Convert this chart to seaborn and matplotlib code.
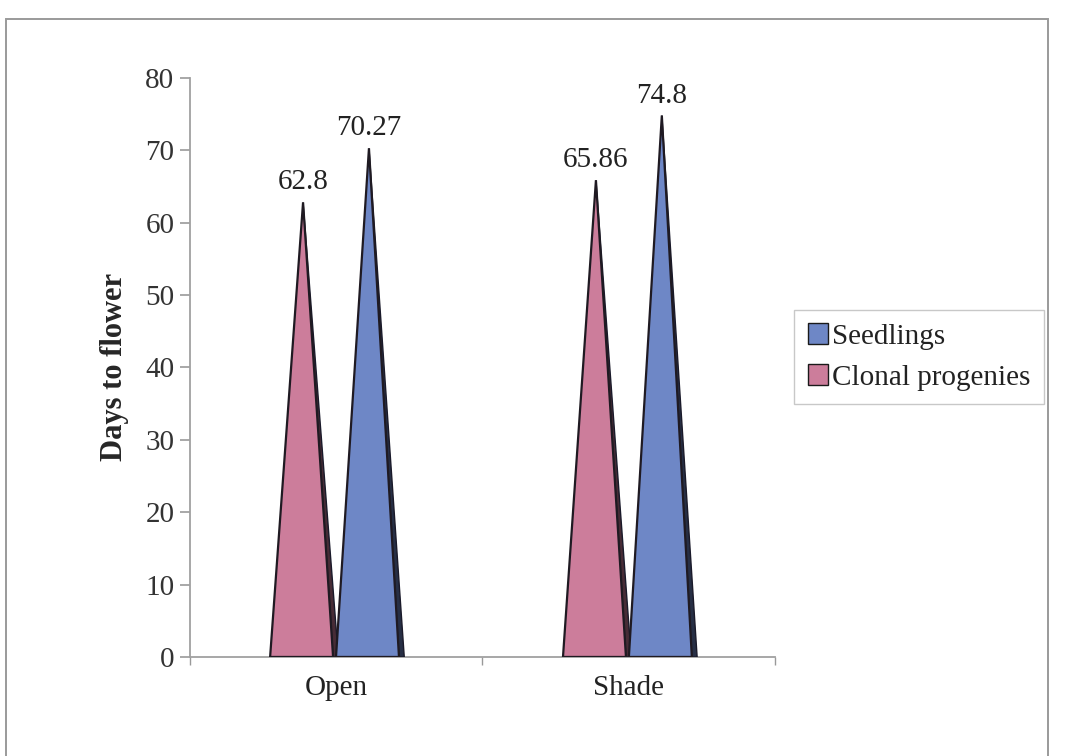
import matplotlib
matplotlib.use("Agg")
import matplotlib.pyplot as plt
from matplotlib.patches import Polygon, Patch, Rectangle
from matplotlib.colors import to_rgb
import pandas as pd
import seaborn as sns

# Data
conditions = ["Open", "Shade"]
groups = ["Clonal progenies", "Seedlings"]
clonal_days = [62.8, 65.86]
seedling_days = [70.27, 74.8]
group_colors = {"Clonal progenies": "#CC7D9B", "Seedlings": "#6E87C6"}
y_ticks = [0, 10, 20, 30, 40, 50, 60, 70, 80]

df = pd.DataFrame({
    "Condition": conditions * 2,
    "Group": [groups[0]] * len(conditions) + [groups[1]] * len(conditions),
    "Days": clonal_days + seedling_days,
})

sns.set_theme(style="white")
plt.rcParams["font.family"] = ["Liberation Serif", "DejaVu Serif"]
plt.rcParams["text.color"] = "#222222"

fig = plt.figure(figsize=(10.65, 7.56), dpi=100)
fig.patch.set_facecolor("white")

# outer frame around the chart
fig.patches.append(Rectangle((0.006, -0.01), 0.978, 0.985, transform=fig.transFigure,
                             fill=False, edgecolor="#9a9a9a", linewidth=1.4))

ax = fig.add_axes([0.178, 0.131, 0.550, 0.766])
sns.barplot(data=df, x="Condition", y="Days", hue="Group", hue_order=groups,
            order=conditions, palette=group_colors, width=0.45, saturation=1,
            legend=False, ax=ax)

# turn each bar into a pyramid (front face + dark side face)
for bar in list(ax.patches):
    x0, w, h = bar.get_x(), bar.get_width(), bar.get_height()
    fc = to_rgb(bar.get_facecolor())
    dark = tuple(c * 0.35 for c in fc)
    side = Polygon([(x0 + w / 2, h), (x0 + w - 0.010, 0), (x0 + w + 0.008, 0)],
                   closed=True, facecolor=dark, edgecolor="#1a1a2a", linewidth=1.0, zorder=3)
    front = Polygon([(x0, 0), (x0 + w - 0.010, 0), (x0 + w / 2, h)], closed=True,
                    facecolor=fc, edgecolor="#1f1a22", linewidth=1.6, zorder=4)
    ax.add_patch(side)
    ax.add_patch(front)
    ax.annotate(f"{h:g}", (x0 + w / 2, h), xytext=(0, 5), textcoords="offset points",
                ha="center", va="bottom", fontsize=21, color="#222222")
    bar.remove()

ax.set_ylim(0, 80)
ax.set_xlim(-0.5, 1.5)
ax.set_yticks(y_ticks)
ax.set_xticks([0, 1])
ax.set_xticklabels(conditions)
ax.set_xticks([-0.5, 0.5, 1.5], minor=True)
ax.tick_params(axis="x", which="major", length=0, pad=13, labelsize=21, labelcolor="#222222")
ax.tick_params(axis="x", which="minor", length=6, width=1.0, color="#999999", direction="out", bottom=True)
ax.tick_params(axis="y", length=7, width=1.2, color="#999999", direction="out", left=True,
               labelsize=21, labelcolor="#333333", pad=4)

ax.set_xlabel("")
ax.set_ylabel("Days to flower", fontsize=22, fontweight="bold", labelpad=12)

for s in ["top", "right"]:
    ax.spines[s].set_visible(False)
for s in ["left", "bottom"]:
    ax.spines[s].set_color("#a0a0a0")
    ax.spines[s].set_linewidth(1.3)

handles = [Patch(facecolor=group_colors["Seedlings"], edgecolor="#1a1a1a", label="Seedlings"),
           Patch(facecolor=group_colors["Clonal progenies"], edgecolor="#1a1a1a", label="Clonal progenies")]
leg = fig.legend(handles=handles, loc="center left", bbox_to_anchor=(0.746, 0.528),
                 fontsize=21, frameon=True, fancybox=False, handlelength=0.7,
                 handleheight=0.7, handletextpad=0.15, borderpad=0.45, labelspacing=0.5,
                 borderaxespad=0)
leg.get_frame().set_edgecolor("#bbbbbb")
leg.get_frame().set_linewidth(1.0)

fig.savefig("out.png", dpi=100)
